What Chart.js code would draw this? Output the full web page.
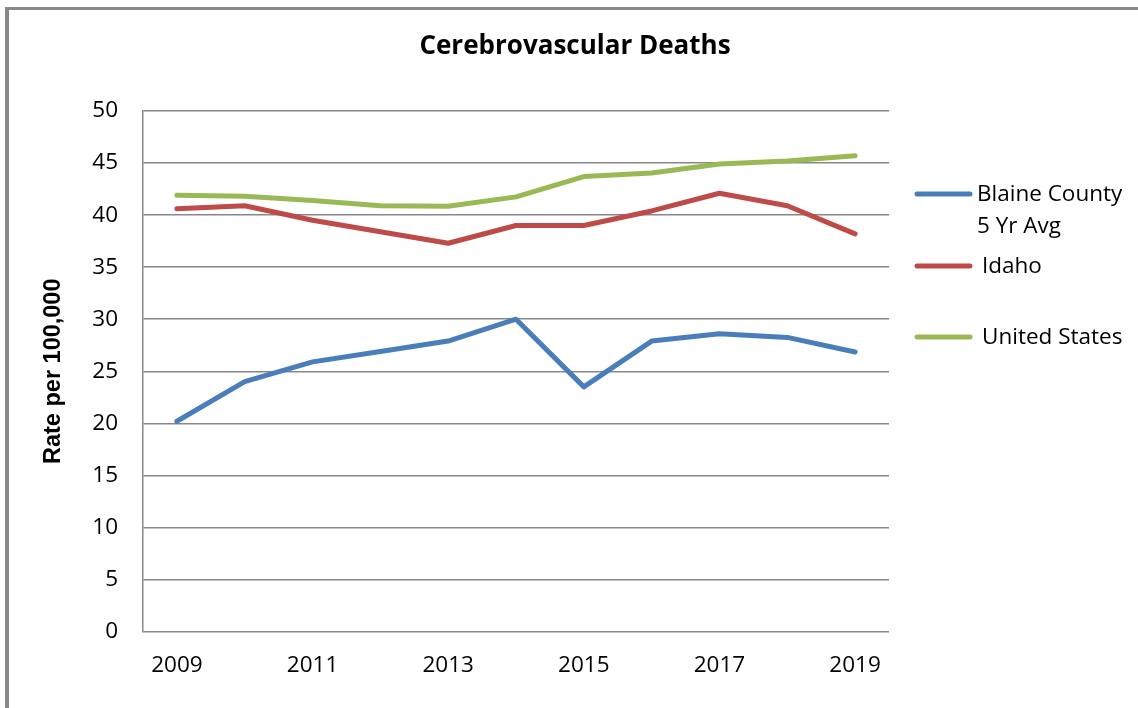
<!DOCTYPE html>
<html lang="en">
<head>
  <meta charset="UTF-8">
  <title>Cerebrovascular Deaths</title>
  <script src="https://cdn.jsdelivr.net/npm/chart.js"></script>
  <style>
    html, body {
      margin: 0;
      padding: 0;
      background: white;
      overflow: hidden;
    }

    .frame {
      position: absolute;
      left: 5px;
      top: 7px;
      width: 2000px;
      height: 2000px;
      border-left: 4px solid #888;
      border-top: 3px solid #888;
    }

    .wrap {
      position: absolute;
      left: 0;
      top: 0;
      width: 1138px;
      height: 708px;
    }
  </style>
</head>
<body>
  <div class="frame"></div>
  <div class="wrap">
    <canvas id="grafico" width="1138" height="708"></canvas>
  </div>

  <script>
    const years = ['2009', '2010', '2011', '2012', '2013', '2014', '2015', '2016', '2017', '2018', '2019'];
    const blaine = [20.2, 24.0, 25.9, 26.9, 27.9, 30.0, 23.5, 27.9, 28.6, 28.25, 26.85];
    const idaho = [40.6, 40.9, 39.5, 38.4, 37.3, 39.0, 39.0, 40.4, 42.1, 40.9, 38.2];
    const unitedStates = [41.9, 41.8, 41.4, 40.9, 40.85, 41.75, 43.7, 44.05, 44.9, 45.2, 45.7];
    const seriesNames = [['Blaine County', '5 Yr Avg'], ['Idaho'], ['United States']];
    const seriesColors = ['#4a7ebb', '#be4b48', '#98b954'];

    const FONT = '"Open Sans", sans-serif';

    // title and the right-hand legend are painted straight onto the canvas
    const extras = {
      id: 'extras',
      afterDraw(chart) {
        const ctx = chart.ctx;
        ctx.save();
        ctx.fillStyle = '#000';
        ctx.textBaseline = 'middle';

        ctx.font = 'bold 26px ' + FONT;
        ctx.textAlign = 'center';
        ctx.fillText('Cerebrovascular Deaths', 575, 47);

        const rows = [194, 266, 337];
        const textX = [977, 982, 982];
        ctx.textAlign = 'left';
        ctx.font = '22.5px ' + FONT;
        ctx.lineCap = 'round';
        ctx.lineWidth = 5;
        seriesNames.forEach((lines, i) => {
          ctx.strokeStyle = seriesColors[i];
          ctx.beginPath();
          ctx.moveTo(917, rows[i]);
          ctx.lineTo(970, rows[i]);
          ctx.stroke();
          lines.forEach((t, j) => {
            ctx.fillText(t, textX[i], rows[i] + 1 + j * 32);
          });
        });
        ctx.restore();
      }
    };

    const ctx = document.getElementById('grafico').getContext('2d');

    const makeSet = (label, data, color) => ({
      label: label,
      data: data,
      borderColor: color,
      backgroundColor: color,
      borderWidth: 5,
      pointRadius: 0,
      tension: 0,
      borderCapStyle: 'round',
      borderJoinStyle: 'round',
      fill: false
    });

    new Chart(ctx, {
      type: 'line',
      data: {
        labels: years,
        datasets: [
          makeSet('Blaine County 5 Yr Avg', blaine, seriesColors[0]),
          makeSet('Idaho', idaho, seriesColors[1]),
          makeSet('United States', unitedStates, seriesColors[2])
        ]
      },
      plugins: [extras],
      options: {
        responsive: false,
        animation: false,
        layout: {
          padding: { left: 0, top: 111, right: 249, bottom: 0 }
        },
        plugins: {
          legend: { display: false },
          title: { display: false },
          tooltip: { enabled: false }
        },
        scales: {
          x: {
            offset: true,
            afterFit(scale) { scale.height = 76.5; },
            grid: { display: false, drawTicks: false },
            border: { display: false },
            ticks: {
              autoSkip: false,
              maxRotation: 0,
              padding: 21,
              color: '#000',
              font: { family: FONT, size: 22.5 },
              callback: function (v, i) { return i % 2 === 0 ? years[i] : ''; }
            }
          },
          y: {
            min: 0,
            max: 50,
            afterFit(scale) { scale.width = 143; },
            grid: { color: '#888', lineWidth: 1.5, drawTicks: false },
            border: { color: '#888', width: 1.5 },
            ticks: {
              stepSize: 5,
              padding: 25,
              color: '#000',
              font: { family: FONT, size: 22.5 }
            },
            title: {
              display: true,
              text: 'Rate per 100,000',
              color: '#000',
              font: { family: '"Liberation Sans", Arial, sans-serif', size: 23.5, weight: 'bold' },
              padding: { top: 39, bottom: 0 }
            }
          }
        }
      }
    });
  </script>
</body>
</html>
